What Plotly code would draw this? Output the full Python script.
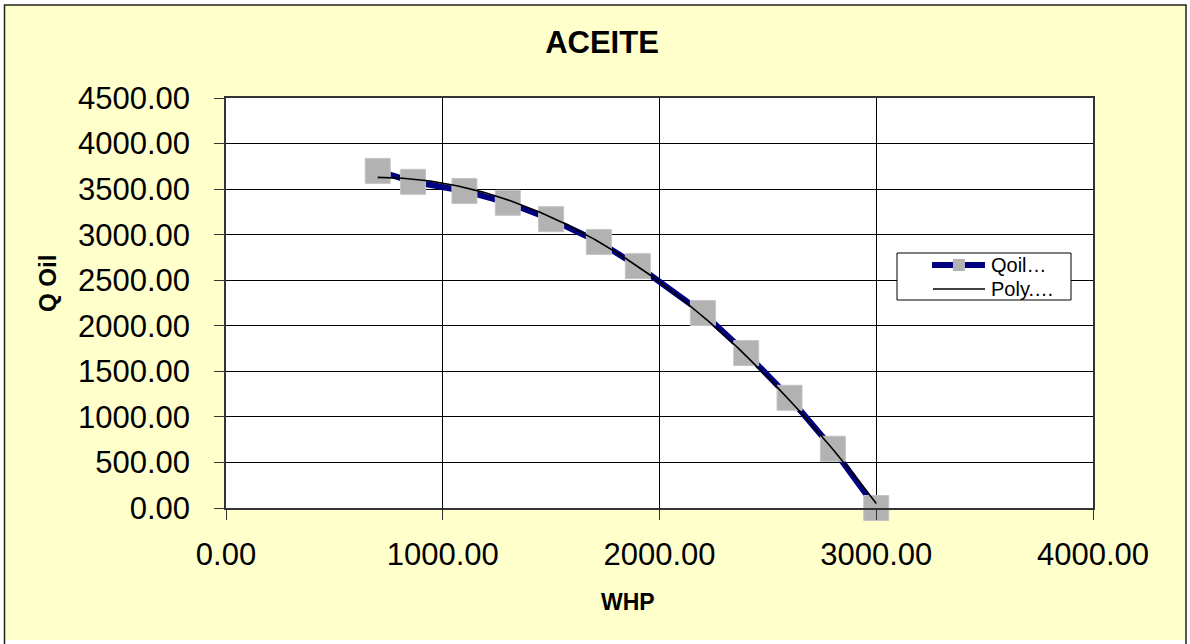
import numpy as np
import plotly.graph_objects as go

# Data
whp = [700, 863, 1100, 1300, 1500, 1720, 1900, 2200, 2400, 2600, 2800, 3000]
q_oil = [3700, 3580, 3480, 3350, 3170, 2920, 2655, 2140, 1700, 1210, 650, 0]
x_ticks = [0, 1000, 2000, 3000, 4000]
y_ticks = [0, 500, 1000, 1500, 2000, 2500, 3000, 3500, 4000, 4500]
series_names = ["Qoil…", "Poly.…"]

# Polynomial (order 2) trendline fitted to the data, as in the original
coef = np.polyfit(whp, q_oil, 2)
x_fit = np.linspace(min(whp), max(whp), 200)
y_fit = np.polyval(coef, x_fit)

W, H = 1190, 644
L, R, T, B = 226, 1093, 98, 508
pw, ph = R - L, B - T

def px(xp):
    return (xp - L) / pw

def py(yp):
    return (B - yp) / ph

FONT = "Liberation Sans, Arial, sans-serif"
NAVY = "#000080"
GRAY = "#B2B2B2"

fig = go.Figure()
fig.add_trace(go.Scatter(
    x=whp, y=q_oil, mode="lines+markers", name=series_names[0],
    line=dict(color=NAVY, width=6), cliponaxis=False,
    marker=dict(symbol="square", size=25, color=GRAY,
                line=dict(color="#C4C4C4", width=1)),
))
fig.add_trace(go.Scatter(
    x=x_fit, y=y_fit, mode="lines", name=series_names[1],
    line=dict(color="#000000", width=1.6), cliponaxis=False,
))

axis_common = dict(
    showgrid=True, gridcolor="#000000", gridwidth=1,
    showline=True, linecolor="#333333", linewidth=1.5, mirror=True,
    ticks="outside", ticklen=10, tickcolor="#333333", tickwidth=1,
    tickfont=dict(family=FONT, size=31, color="#000000"),
    tickformat=".2f", zeroline=False,
)

# Custom legend (box, samples, labels)
leg_x0, leg_x1, leg_y0, leg_y1 = 897, 1071, 253, 300
row_y = [265, 289]
shapes = [
    dict(type="rect", xref="paper", yref="paper",
         x0=px(0), x1=px(W), y0=py(H), y1=py(0),
         line=dict(color="#FFFFFF", width=8), fillcolor="rgba(0,0,0,0)", layer="above"),
    dict(type="rect", xref="paper", yref="paper",
         x0=px(4.5), x1=px(1186), y0=py(650), y1=py(5),
         line=dict(color="#222222", width=1.5), fillcolor="rgba(0,0,0,0)", layer="above"),
    dict(type="rect", xref="paper", yref="paper",
         x0=px(leg_x0), x1=px(leg_x1), y0=py(leg_y1), y1=py(leg_y0),
         line=dict(color="#000000", width=1), fillcolor="#FFFFFF", layer="above"),
    dict(type="line", xref="paper", yref="paper",
         x0=px(932), x1=px(985), y0=py(row_y[0]), y1=py(row_y[0]),
         line=dict(color=NAVY, width=6), layer="above"),
    dict(type="rect", xref="paper", yref="paper",
         x0=px(953), x1=px(965), y0=py(row_y[0] + 6), y1=py(row_y[0] - 6),
         line=dict(color=GRAY, width=0), fillcolor=GRAY, layer="above"),
    dict(type="line", xref="paper", yref="paper",
         x0=px(933), x1=px(985), y0=py(row_y[1]), y1=py(row_y[1]),
         line=dict(color="#000000", width=1.5), layer="above"),
]

annotations = [
    dict(text="<b>Q Oil</b>", textangle=-90, x=px(47), y=py(284),
         xref="paper", yref="paper", showarrow=False,
         font=dict(family=FONT, size=24, color="#000000"),
         xanchor="center", yanchor="middle"),
    dict(text="<b>WHP</b>", x=px(628), y=py(602),
         xref="paper", yref="paper", showarrow=False,
         font=dict(family=FONT, size=23, color="#000000"),
         xanchor="center", yanchor="middle"),
]
for name, ry in zip(series_names, row_y):
    annotations.append(dict(text=name, x=px(989), y=py(ry), xref="paper", yref="paper",
                            showarrow=False, xanchor="left", yanchor="middle",
                            font=dict(family=FONT, size=20, color="#000000")))

fig.update_layout(
    width=W, height=H,
    margin=dict(l=L, r=W - R, t=T, b=H - B),
    paper_bgcolor="#FFFFCC", plot_bgcolor="#FFFFFF",
    title=dict(text="<b>ACEITE</b>", font=dict(family=FONT, size=31, color="#000000"),
               x=602 / W, xanchor="center", xref="container",
               y=1 - 42 / H, yanchor="middle", yref="container"),
    xaxis=dict(range=[0, 4000], tickvals=x_ticks, ticklabelstandoff=8, **axis_common),
    yaxis=dict(range=[0, 4500], tickvals=y_ticks, ticklabelstandoff=18, **axis_common),
    showlegend=False,
    annotations=annotations,
    shapes=shapes,
)

fig.write_html("out.html")
